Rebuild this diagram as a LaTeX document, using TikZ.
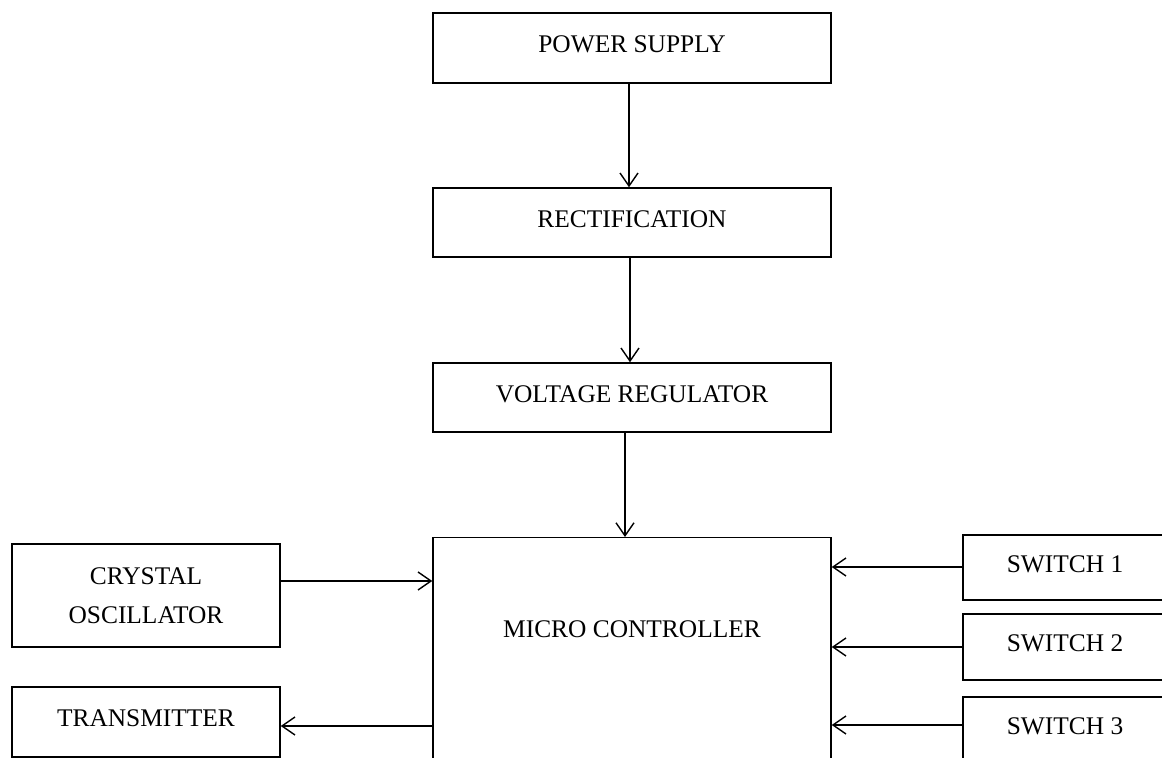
\documentclass[tikz,border=0pt]{standalone}
\usepackage{fontspec}
\setmainfont{Liberation Serif}
\usetikzlibrary{arrows.meta,positioning}

\begin{document}
\begin{tikzpicture}[x=0.5pt,y=-0.5pt]
\tikzset{
  blk/.style={draw, line width=0.75pt, inner sep=0pt, align=center,
    font=\fontsize{12.7}{19.5}\selectfont},
  one/.style={blk, text height=8.6pt, text depth=4pt},
  lbl/.style={inner sep=0pt, font=\fontsize{12.7}{19.5}\selectfont},
  arr/.style={-{Straight Barb[length=6.5pt,width=9pt]}, line width=0.7pt}
}
\useasboundingbox (0,0) rectangle (1162,758);
\clip (0,0) rectangle (1162,758);
% ---------- supply chain ----------
\node[one, minimum width=199pt, minimum height=35pt] (ps) at (632,48) {POWER SUPPLY};
\node[one, minimum width=199pt, minimum height=34.5pt] (rect) at (632,222.5) {RECTIFICATION};
\node[one, minimum width=199pt, minimum height=34.5pt] (vr) at (632,397.5) {VOLTAGE REGULATOR};
\node[blk, minimum width=199pt, minimum height=150pt, anchor=north] (mc) at (632,537) {};
\node[lbl] (mctext) at (632,629) {MICRO CONTROLLER};
% ---------- left side ----------
\node[blk, minimum width=134pt, minimum height=51.5pt] (cry) at (146,595.5) {CRYSTAL\\OSCILLATOR};
\node[one, minimum width=134pt, minimum height=35pt] (tx) at (146,722) {TRANSMITTER};
% ---------- switches ----------
\node[one, minimum width=102pt, minimum height=32.5pt] (sw1) at (1065,567.5) {SWITCH 1};
\node[one, minimum width=102pt, minimum height=33pt] (sw2) at (1065,647) {SWITCH 2};
\node[one, minimum width=102pt, minimum height=32.5pt] (sw3) at (1065,729.5) {SWITCH 3};
% ---------- connections ----------
\draw[arr] ([xshift=-1.5pt]ps.south) -- ([xshift=-1.5pt]rect.north);
\draw[arr] ([xshift=-1pt]rect.south) -- ([xshift=-1pt]vr.north);
\draw[arr] ([xshift=-3.5pt]vr.south) -- ([xshift=-3.5pt]mc.north);
\draw[arr] ([yshift=7.25pt]cry.east) -- ([yshift=7.25pt]cry.east -| mc.west);
\draw[arr] ([yshift=-2pt]tx.east -| mc.west) -- ([yshift=-2pt]tx.east);
\draw[arr] ([yshift=0.25pt]sw1.west) -- ([yshift=0.25pt]sw1.west -| mc.east);
\draw[arr] (sw2.west) -- (sw2.west -| mc.east);
\draw[arr] ([yshift=2.25pt]sw3.west) -- ([yshift=2.25pt]sw3.west -| mc.east);
\end{tikzpicture}
\end{document}
